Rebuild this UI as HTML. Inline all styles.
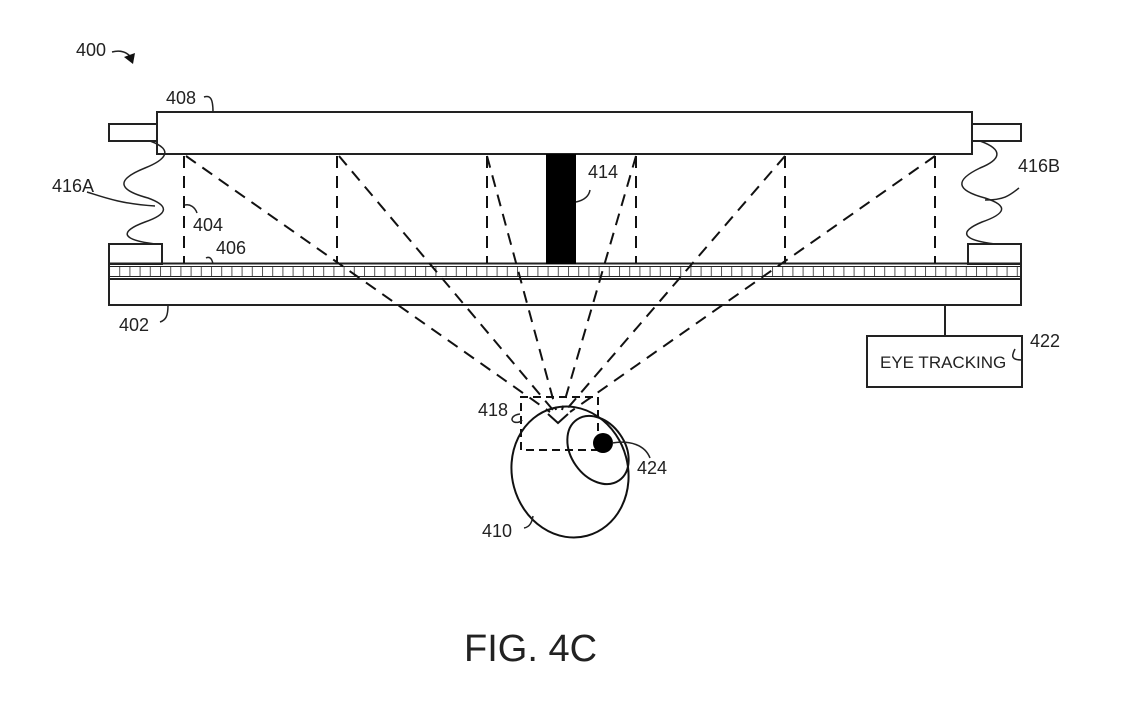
<!DOCTYPE html>
<html><head><meta charset="utf-8"><style>
html,body{margin:0;padding:0;background:#fff;width:1123px;height:721px;overflow:hidden}
svg text{font-family:"Liberation Sans",Arial,sans-serif;fill:#222}
</style></head><body>
<svg width="1123" height="721" viewBox="0 0 1123 721" xmlns="http://www.w3.org/2000/svg">
<defs>
<pattern id="g" x="109" y="0" width="10.2" height="20" patternUnits="userSpaceOnUse">
<line x1="0.5" y1="0" x2="0.5" y2="20" stroke="#555" stroke-width="1"/>
</pattern>
</defs>
<g fill="none" stroke="#222" stroke-width="2">
<rect x="157" y="112" width="815" height="42" fill="#fff"/>
<rect x="109" y="124" width="48" height="17"/>
<rect x="972" y="124" width="49" height="17"/>
<rect x="109" y="244" width="53" height="20"/>
<rect x="968" y="244" width="53" height="20"/>
<rect x="109" y="266" width="912" height="11" fill="url(#g)" stroke="none"/>
<line x1="109" y1="263.5" x2="1021" y2="263.5"/>
<line x1="109" y1="266.5" x2="1021" y2="266.5" stroke-width="1"/>
<line x1="109" y1="276.5" x2="1021" y2="276.5" stroke-width="1"/>
<line x1="109" y1="263" x2="109" y2="305"/>
<line x1="1021" y1="263" x2="1021" y2="305"/>
<rect x="109" y="279" width="912" height="26"/>
</g>
<rect x="546" y="154" width="30" height="110" fill="#000"/>
<g stroke="#111" stroke-width="2" stroke-dasharray="12,8" fill="none">
<line x1="184" y1="156" x2="184" y2="263"/>
<line x1="337" y1="156" x2="337" y2="263"/>
<line x1="487" y1="156" x2="487" y2="263"/>
<line x1="636" y1="156" x2="636" y2="263"/>
<line x1="785" y1="156" x2="785" y2="263"/>
<line x1="935" y1="156" x2="935" y2="263"/>
<line x1="186" y1="156" x2="550" y2="412"/>
<line x1="339" y1="156" x2="553" y2="410"/>
<line x1="487" y1="156" x2="556" y2="410"/>
<line x1="636" y1="156" x2="562" y2="410"/>
<line x1="785" y1="156" x2="566" y2="410"/>
<line x1="935" y1="156" x2="570" y2="412"/>
<polyline points="521,450 521,397 598,397 598,450 521,450" stroke-dasharray="8,5"/>
</g>
<g fill="none" stroke="#111" stroke-width="2">
<ellipse cx="570" cy="472" rx="58" ry="66" transform="rotate(-15 570 472)"/>
<ellipse cx="598" cy="450" rx="27" ry="37" transform="rotate(-35 598 450)"/>
<path d="M548,414 L558,423 L568,414"/>
</g>
<circle cx="603" cy="443" r="10" fill="#000"/>
<g fill="none" stroke="#222" stroke-width="2">
<line x1="945" y1="305" x2="945" y2="336"/>
<rect x="867" y="336" width="155" height="51"/>
</g>
<g fill="none" stroke="#222" stroke-width="1.5">
<path d="M150,141 C175,150 165,160 145,168 C115,180 118,190 148,198 C170,206 168,214 145,222 C118,232 122,240 155,244"/>
<path d="M980,141 C1005,150 1000,160 980,168 C955,180 955,190 985,198 C1010,206 1005,214 982,222 C958,232 962,240 995,244"/>
<path d="M112,52 C120,50 126,52 130,56"/>
<path d="M204,97 C210,95 213,98 213,112"/>
<path d="M87,192 C100,196 120,204 155,206"/>
<path d="M1019,188 C1010,195 1005,200 985,200"/>
<path d="M185,205 C190,204 195,207 197,213"/>
<path d="M206,258 C210,256 212,259 213,264"/>
<path d="M160,322 C166,320 168,316 168,305"/>
<path d="M576,202 C585,200 589,196 590,190"/>
<path d="M1015,349 C1012,355 1010,360 1022,360"/>
<path d="M520,414 C512,415 510,420 514,422 C517,423 521,422 522,420"/>
<path d="M612,443 C630,440 645,445 650,458"/>
<path d="M524,528 C530,527 532,522 533,516"/>
</g>
<polygon points="124,57 135,53 133,64" fill="#111"/>
<g font-size="18">
<text x="76" y="56">400</text>
<text x="166" y="104">408</text>
<text x="52" y="192">416A</text>
<text x="1018" y="172">416B</text>
<text x="193" y="231">404</text>
<text x="216" y="254">406</text>
<text x="119" y="331">402</text>
<text x="588" y="178">414</text>
<text x="1030" y="347">422</text>
<text x="478" y="416">418</text>
<text x="637" y="474">424</text>
<text x="482" y="537">410</text>
<text x="880" y="368" font-size="17">EYE TRACKING</text>
</g>
<text x="464" y="661" font-size="38">FIG. 4C</text>
</svg>
</body></html>
